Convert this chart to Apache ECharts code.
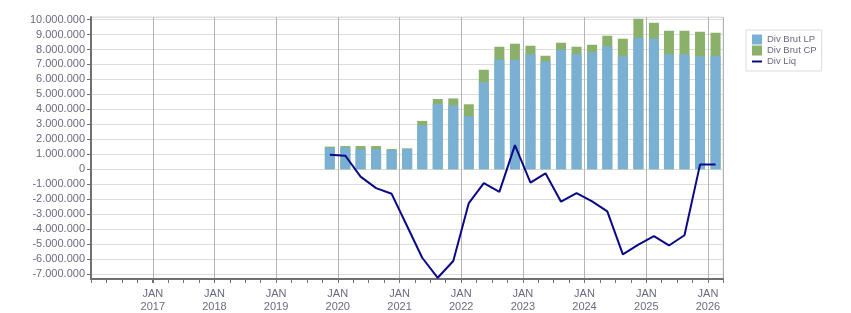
<!DOCTYPE html>
<html>
<head>
<meta charset="utf-8">
<script src="https://cdn.jsdelivr.net/npm/echarts@6/dist/echarts.min.js"></script>
<style>
	html, body { margin: 0; padding: 0; background: #fff; }
	#chart { width: 851px; height: 313px; }
</style>
</head>
<body>
<div id="chart"></div>
<script>
// quarterly points (mid-quarter), Q4 2019 .. Q1 2026
var quarters = [
	'2019-11-15', '2020-02-15', '2020-05-15', '2020-08-15', '2020-11-15',
	'2021-02-15', '2021-05-15', '2021-08-15', '2021-11-15',
	'2022-02-15', '2022-05-15', '2022-08-15', '2022-11-15',
	'2023-02-15', '2023-05-15', '2023-08-15', '2023-11-15',
	'2024-02-15', '2024-05-15', '2024-08-15', '2024-11-15',
	'2025-02-15', '2025-05-15', '2025-08-15', '2025-11-15',
	'2026-02-15'
];
var divBrutLP = [
	1440000, 1460000, 1330000, 1330000, 1280000, 1350000, 2940000, 4360000, 4270000,
	3540000, 5820000, 7320000, 7320000, 7680000, 7190000, 7990000, 7720000,
	7810000, 8210000, 7540000, 8780000, 8740000, 7680000, 7680000, 7540000,
	7590000
];
var divBrutCP = [
	70000, 90000, 220000, 220000, 70000, 50000, 290000, 330000, 460000,
	800000, 830000, 870000, 1070000, 570000, 400000, 460000, 470000,
	510000, 710000, 1180000, 1270000, 1040000, 1570000, 1570000, 1640000,
	1530000
];
var divLiq = [
	970000, 900000, -490000, -1260000, -1640000, -3810000, -5910000, -7250000, -6130000,
	-2260000, -930000, -1510000, 1610000, -890000, -270000, -2170000, -1590000,
	-2150000, -2810000, -5690000, -5030000, -4470000, -5090000, -4410000, 310000,
	310000
];
var seriesNames = ['Div Brut LP', 'Div Brut CP', 'Div Liq'];
var xStart = '2016-01-01';
var xEnd = '2026-03-31';

var TXT = '#6a6a80';
var FONT = 'Liberation Sans';
var QUARTER_MS = 365.25 / 4 * 24 * 3600 * 1000;

function ms(d) {
	return echarts.time.parse(d).getTime();
}

function pairs(values) {
	var out = [];
	for (var i = 0; i < quarters.length; i++) {
		out.push([ms(quarters[i]), values[i]]);
	}
	return out;
}

// CP sits on top of LP: draw LP+CP behind, LP in front
function brutTotal() {
	var out = [];
	for (var i = 0; i < divBrutLP.length; i++) {
		out.push(divBrutLP[i] + divBrutCP[i]);
	}
	return out;
}

function fmtThousands(v) {
	var neg = v < 0;
	var s = String(Math.abs(Math.round(v)));
	s = s.replace(/\B(?=(\d{3})+(?!\d))/g, '.');
	return (neg ? '-' : '') + s;
}

var myChart = echarts.init(document.getElementById('chart'));

var option = {
	animation: false,
	backgroundColor: '#fff',
	textStyle: { fontFamily: FONT },
	grid: {
		left: 91,
		right: 128,
		top: 17,
		bottom: 33.5,
		show: true,
		borderColor: '#dcdcdc',
		borderWidth: 1
	},
	legend: {
		orient: 'vertical',
		left: 746,
		top: 30,
		padding: [4, 5, 4, 6],
		itemGap: 0,
		itemWidth: 10,
		itemHeight: 10,
		borderColor: '#dcdcdc',
		borderWidth: 1,
		backgroundColor: '#fff',
		data: [
			{ name: seriesNames[0], icon: 'rect' },
			{ name: seriesNames[1], icon: 'rect' },
			{ name: seriesNames[2], icon: 'path://M0,0 L10,0 L10,2 L0,2 Z' }
		],
		textStyle: { color: TXT, fontSize: 9.5, fontFamily: FONT, lineHeight: 11 }
	},
	xAxis: [
		{
			// yearly labels, split lines and major ticks
			type: 'time',
			min: ms(xStart),
			max: ms(xEnd),
			minInterval: 365 * 24 * 3600 * 1000,
			maxInterval: 366 * 24 * 3600 * 1000,
			axisLine: { show: true, onZero: false, lineStyle: { color: '#707070', width: 2 } },
			axisTick: { show: true, length: 4, lineStyle: { color: '#707070' } },
			splitLine: { show: true, lineStyle: { color: '#b4b4b4', width: 1 } },
			axisLabel: {
				color: TXT,
				fontSize: 11,
				fontFamily: FONT,
				lineHeight: 13,
				margin: 8,
				showMinLabel: false,
				showMaxLabel: false,
				hideOverlap: false,
				formatter: function (value) {
					if (value <= ms(xStart)) return '';
					return 'JAN\n' + new Date(value).getFullYear();
				}
			}
		},
		{
			// quarterly ticks, carries the data
			type: 'value',
			position: 'bottom',
			min: ms(xStart),
			max: ms(xEnd),
			interval: QUARTER_MS,
			axisLine: { show: false, onZero: false },
			axisTick: { show: true, length: 4, lineStyle: { color: '#707070' } },
			splitLine: { show: false },
			axisLabel: { show: false }
		}
	],
	yAxis: {
		type: 'value',
		min: -7330000,
		max: 10170000,
		splitNumber: 17,
		minInterval: 1000000,
		maxInterval: 1000000,
		axisLine: { show: true, lineStyle: { color: '#707070', width: 2 } },
		axisTick: { show: true, length: 4, lineStyle: { color: '#707070' } },
		splitLine: { show: true, lineStyle: { color: '#dcdcdc', width: 1 } },
		axisLabel: {
			color: TXT,
			fontSize: 11,
			fontFamily: FONT,
			margin: 6,
			showMinLabel: false,
			showMaxLabel: false,
			formatter: fmtThousands
		}
	},
	series: [
		{
			name: seriesNames[1],
			type: 'bar',
			xAxisIndex: 1,
			barWidth: 10,
			barGap: '-100%',
			itemStyle: { color: '#8bb06a' },
			data: pairs(brutTotal())
		},
		{
			name: seriesNames[0],
			type: 'bar',
			xAxisIndex: 1,
			barWidth: 10,
			barGap: '-100%',
			itemStyle: { color: '#7ab0d4' },
			data: pairs(divBrutLP)
		},
		{
			name: seriesNames[2],
			type: 'line',
			xAxisIndex: 1,
			symbol: 'none',
			lineStyle: { color: '#0a0a86', width: 2 },
			itemStyle: { color: '#0a0a86' },
			data: pairs(divLiq)
		}
	]
};

myChart.setOption(option, true);
</script>
</body>
</html>
